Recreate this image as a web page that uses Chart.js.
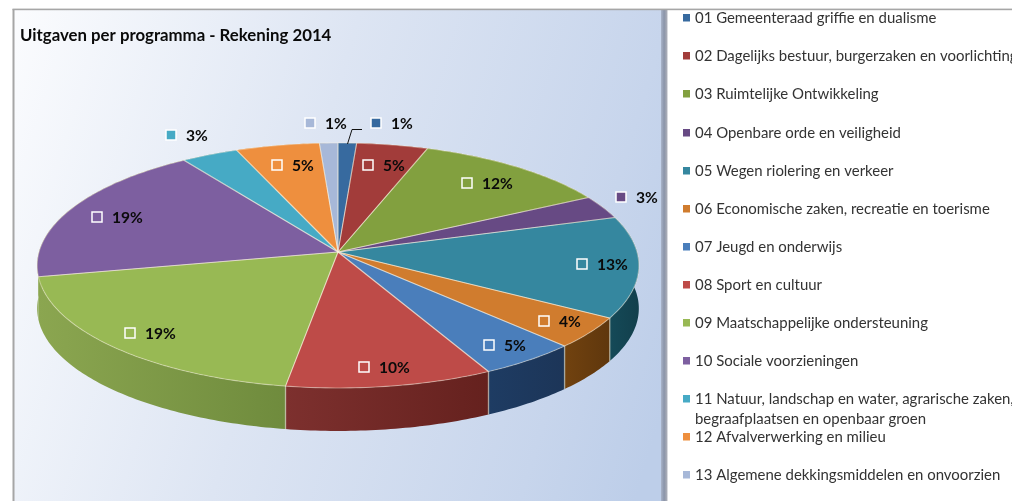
<!DOCTYPE html>
<html><head><meta charset="utf-8">
<style>html,body{margin:0;padding:0;background:#fff;overflow:hidden}canvas{display:block;filter:blur(.45px)}</style>
<script src="https://cdn.jsdelivr.net/npm/chart.js@4"></script></head>
<body><canvas id="c" width="1012" height="501"></canvas>
<script>
const categories = [
 "01 Gemeenteraad griffie en dualisme",
 "02 Dagelijks bestuur, burgerzaken en voorlichting",
 "03 Ruimtelijke Ontwikkeling",
 "04 Openbare orde en veiligheid",
 "05 Wegen riolering en verkeer",
 "06 Economische zaken, recreatie en toerisme",
 "07 Jeugd en onderwijs",
 "08 Sport en cultuur",
 "09 Maatschappelijke ondersteuning",
 "10 Sociale voorzieningen",
 "11 Natuur, landschap en water, agrarische zaken,",
 "12 Afvalverwerking en milieu",
 "13 Algemene dekkingsmiddelen en onvoorzien"];
const wrappedLine = "begraafplaatsen en openbaar groen";
const shares = [1.1,4.25,11.8,3.1,13.35,4.1,4.8,10.0,19.3,18.7,3.4,5.0,1.1];
const printedPercent = [1,5,12,3,13,4,5,10,19,19,3,5,1];
const topColors = ["#376a9f","#a23c3a","#82a03f","#674a84","#35879f","#d07c2e","#4a7ebb","#be4b48","#98b954","#7d5fa0","#46aac5","#ee8f3e","#a7b8d8"];
const sideColors = [["#2a5078","#2a5078"],["#7a2c2a","#7a2c2a"],["#60772f","#60772f"],["#4c3662","#4c3662"],["#154a58","#123f4c"],["#71420f","#5f370d"],["#1e3c63","#1c3558"],["#7d302e","#65211e"],["#8ba650","#6f8b3d"],["#8ba650","#8ba650"],["#327f94","#327f94"],["#b56a2c","#b56a2c"],["#7d8aa3","#7d8aa3"]];
const labelAnchors = [[376,123],[368,165],[467,183],[621,197],[582,264],[544,321],[489,345],[364,367],[130,333],[97,217],[171,135],[277,165],[310,123]];
const legendRows = [18,56,94,133,171,209,247,285,323,361,399,437,475];

const view = {cx:338, cy:252, A:299, B:121, k:0.11, depth:43};
function project(theta, r){
  const u = r*Math.sin(theta), v = -r*Math.cos(theta), d = 1 - view.k*v;
  return [view.cx + view.A*u/d, view.cy + view.B*v/d];
}
function arcPoints(a0,a1){
  const pts=[], n=Math.max(2,Math.ceil((a1-a0)/0.015));
  for(let i=0;i<=n;i++) pts.push(project(a0+(a1-a0)*i/n,1));
  return pts;
}
const pie3d = {
  id:'pie3d',
  beforeDraw(chart){
    const ctx=chart.ctx;
    ctx.save();
    ctx.fillStyle='#fff'; ctx.fillRect(0,0,1012,501);
    const g=ctx.createLinearGradient(13,9,720,226);
    g.addColorStop(0,'#fbfcfe'); g.addColorStop(.45,'#dde5f3'); g.addColorStop(.85,'#c7d5ec'); g.addColorStop(1,'#bdcee9');
    ctx.fillStyle=g; ctx.fillRect(14,10,648,491);
    const s=ctx.createLinearGradient(661,0,668,0);
    s.addColorStop(0,'#a9b4c9'); s.addColorStop(.45,'#8a94a9'); s.addColorStop(.8,'#a6aab5'); s.addColorStop(1,'#f4f4f6');
    ctx.fillStyle=s; ctx.fillRect(661,10,7,491);
    ctx.fillStyle='#a6a6a6'; ctx.fillRect(12.5,9,2,492); ctx.fillRect(12.5,8.6,999.5,1.6);
    ctx.restore();
  },
  beforeDatasetsDraw(chart){
    const ctx=chart.ctx, arcs=chart.getDatasetMeta(0).data, off=Math.PI/2;
    ctx.save();
    arcs.forEach((el,i)=>{
      const a0=el.startAngle+off, a1=el.endAngle+off;
      const pts=arcPoints(a0,a1);
      const xs=pts.map(p=>p[0]);
      const g=ctx.createLinearGradient(Math.min(...xs),0,Math.max(...xs)+.01,0);
      g.addColorStop(0,sideColors[i][0]); g.addColorStop(1,sideColors[i][1]);
      ctx.beginPath();
      pts.forEach((p,j)=>j?ctx.lineTo(p[0],p[1]):ctx.moveTo(p[0],p[1]));
      pts.slice().reverse().forEach(p=>ctx.lineTo(p[0],p[1]+view.depth));
      ctx.closePath();
      ctx.fillStyle=g; ctx.fill();
    });
    arcs.forEach((el,i)=>{
      if(i===9) return;
      const p=project(el.startAngle+off,1);
      ctx.beginPath(); ctx.moveTo(p[0],p[1]); ctx.lineTo(p[0],p[1]+view.depth);
      ctx.strokeStyle='rgba(225,225,205,.55)'; ctx.lineWidth=1.4; ctx.stroke();
    });
    arcs.forEach((el,i)=>{
      const a0=el.startAngle+off, a1=el.endAngle+off;
      ctx.beginPath(); ctx.moveTo(view.cx,view.cy);
      arcPoints(a0,a1).forEach(p=>ctx.lineTo(p[0],p[1]));
      ctx.closePath();
      ctx.fillStyle=topColors[i]; ctx.fill();
    });
    arcs.forEach(el=>{
      const a0=el.startAngle+off, a1=el.endAngle+off;
      ctx.beginPath(); ctx.moveTo(view.cx,view.cy);
      arcPoints(a0,a1).forEach(p=>ctx.lineTo(p[0],p[1]));
      ctx.closePath();
      ctx.strokeStyle='rgba(255,245,225,.42)'; ctx.lineWidth=1.1; ctx.lineJoin='round'; ctx.stroke();
    });
    ctx.restore();
    return false;
  },
  afterDraw(chart){
    const ctx=chart.ctx;
    ctx.save();
    ctx.beginPath(); ctx.moveTo(347.5,144); ctx.lineTo(352,129.5); ctx.lineTo(362,129.5);
    ctx.strokeStyle='#111'; ctx.lineWidth=1; ctx.stroke();
    ctx.textBaseline='middle'; ctx.textAlign='left';
    printedPercent.forEach((v,i)=>{
      const [x,y]=labelAnchors[i];
      ctx.fillStyle=topColors[i]; ctx.fillRect(x-5,y-5,10,10);
      ctx.strokeStyle='#fff'; ctx.lineWidth=1.5; ctx.strokeRect(x-5,y-5,10,10);
      ctx.fillStyle='#0a0a0a'; ctx.font='bold 15.6px Lato';
      ctx.fillText(v+'%',x+15,y+1);
    });
    categories.forEach((t,i)=>{
      const y=legendRows[i];
      ctx.fillStyle=topColors[i]; ctx.fillRect(683,y-4,7,7.5);
      ctx.fillStyle='#333'; ctx.font='14.95px Lato';
      ctx.fillText(t,695,y);
    });
    ctx.fillText(wrappedLine,695,419);
    ctx.restore();
  }
};
new Chart(document.getElementById('c'),{
  type:'pie',
  data:{labels:categories,datasets:[{data:shares,backgroundColor:topColors}]},
  options:{
    responsive:false, animation:false,
    layout:{padding:{left:20,top:26}},
    plugins:{
      legend:{display:false}, tooltip:{enabled:false},
      title:{display:true,text:'Uitgaven per programma - Rekening 2014',align:'start',color:'#0a0a0a',
             font:{family:'Lato',size:16.8,weight:'bold'},padding:0}
    }
  },
  plugins:[pie3d]
});
</script></body></html>
